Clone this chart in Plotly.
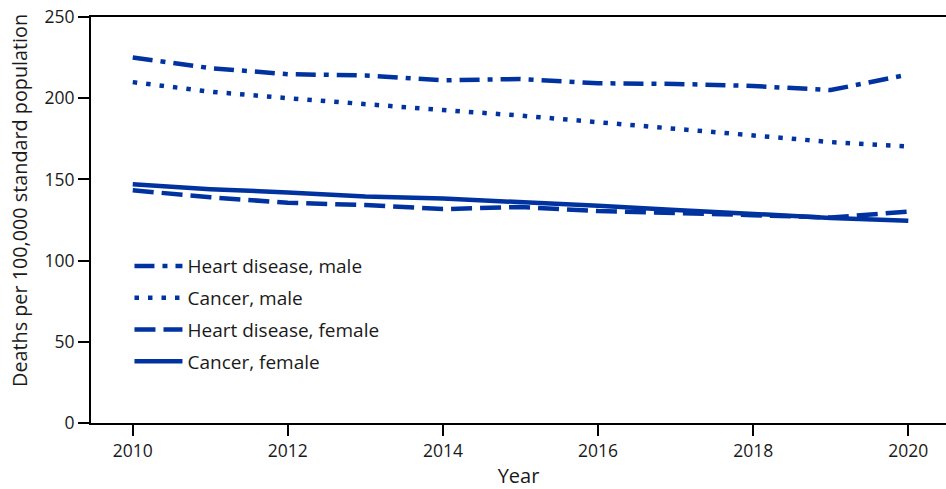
import plotly.graph_objects as go

years = [2010, 2011, 2012, 2013, 2014, 2015, 2016, 2017, 2018, 2019, 2020]
heart_male = [225.1, 218.5, 214.8, 214.0, 211.0, 211.8, 209.2, 208.8, 207.5, 205.0, 214.6]
cancer_male = [209.9, 204.0, 200.0, 196.2, 192.7, 189.3, 185.3, 181.1, 176.8, 173.0, 170.2]
heart_female = [143.3, 139.0, 135.6, 134.2, 131.7, 133.0, 130.5, 129.5, 128.0, 126.5, 130.2]
cancer_female = [147.0, 144.0, 142.0, 139.5, 138.2, 136.2, 133.8, 131.2, 128.6, 126.3, 124.5]

series_names = ["Heart disease, male", "Cancer, male", "Heart disease, female", "Cancer, female"]
x_ticks = [2010, 2012, 2014, 2016, 2018, 2020]
y_ticks = [0, 50, 100, 150, 200, 250]

color = "#0033a0"
font_family = "Open Sans"

series = [heart_male, cancer_male, heart_female, cancer_female]
dashes = ["20px,8px,5px,8px", "4.5px,9px", "21px,8px", "solid"]

fig = go.Figure()
for i, (name, vals, dash) in enumerate(zip(series_names, series, dashes)):
    fig.add_trace(go.Scatter(
        x=years, y=vals, name=name, mode="lines",
        line=dict(color=color, width=4.5, dash=dash),
        legendgroup="g%d" % i,
    ))

fig.update_layout(
    width=946, height=489,
    margin=dict(l=91, r=0, t=17, b=66),
    paper_bgcolor="white", plot_bgcolor="white",
    font=dict(family=font_family, size=17, color="#1a1a1a"),
    showlegend=True,
    legend=dict(
        x=0.045, y=0.433, xanchor="left", yanchor="top",
        bgcolor="rgba(0,0,0,0)", font=dict(size=19, family=font_family, color="#1a1a1a"),
        tracegroupgap=4, itemwidth=48,
    ),
    xaxis=dict(
        range=[2009.462, 2020.486], tickvals=x_ticks, ticktext=[str(v) for v in x_ticks],
        showgrid=False, zeroline=False, automargin=False,
        showline=True, linecolor="black", linewidth=2, mirror=True,
        ticks="outside", ticklen=11, tickwidth=2, tickcolor="black",
        tickfont=dict(size=17.5),
        title=dict(text="Year", font=dict(size=20), standoff=11),
    ),
    yaxis=dict(
        range=[0, 250], tickvals=y_ticks, automargin=False,
        showgrid=False, zeroline=False,
        showline=True, linecolor="black", linewidth=2,
        ticks="outside", ticklen=11, tickwidth=2, tickcolor="black",
        tickfont=dict(size=17.5),
    ),
    annotations=[dict(
        text="Deaths per 100,000 standard population", textangle=-90,
        xref="paper", yref="paper", x=-0.083, y=0.547,
        xanchor="center", yanchor="middle", showarrow=False,
        font=dict(size=19.8, family=font_family, color="#1a1a1a"),
    )],
)

fig.write_html("out.html", config={"displayModeBar": False},
               post_script="document.body.style.margin='0';")
